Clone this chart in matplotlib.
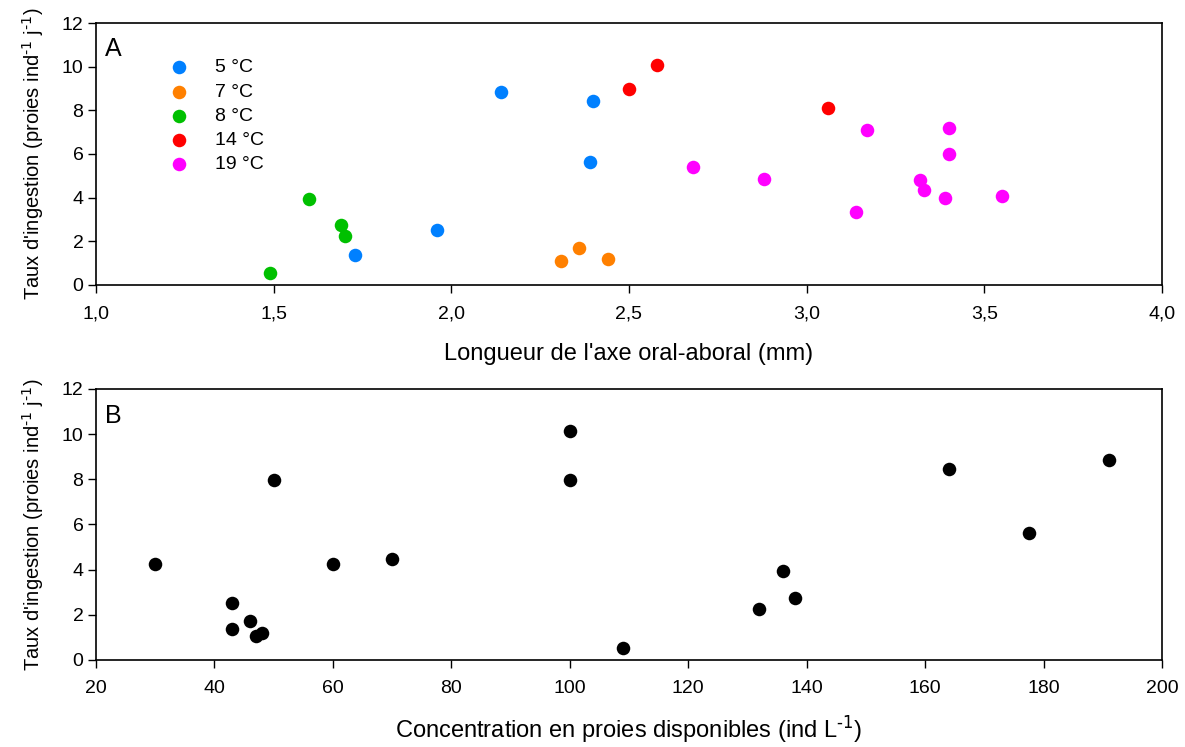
import matplotlib
matplotlib.use("Agg")
import matplotlib.pyplot as plt
from matplotlib.ticker import FuncFormatter

plt.rcParams['font.family'] = ['Liberation Sans', 'DejaVu Sans']
plt.rcParams['mathtext.default'] = 'regular'

# Panel A: ingestion rate vs oral-aboral length, by temperature
temps = ['5 °C', '7 °C', '8 °C', '14 °C', '19 °C']
colors = ['#0080FF', '#FF8000', '#00C000', '#FF0000', '#FF00FF']
length = [
    [2.14, 2.40, 2.39, 1.96, 1.73],
    [2.31, 2.36, 2.44],
    [1.49, 1.60, 1.69, 1.70],
    [2.50, 2.58, 3.06],
    [2.68, 2.88, 3.17, 3.14, 3.40, 3.40, 3.32, 3.33, 3.39, 3.55],
]
rate_a = [
    [8.83, 8.43, 5.63, 2.53, 1.39],
    [1.10, 1.68, 1.20],
    [0.56, 3.93, 2.73, 2.23],
    [8.96, 10.09, 8.11],
    [5.39, 4.86, 7.09, 3.33, 7.17, 6.02, 4.82, 4.35, 3.99, 4.08],
]

# Panel B: ingestion rate vs prey concentration
conc = [30, 43, 43, 46, 47, 48, 50, 60, 70, 100, 100, 109, 132, 136, 138, 164, 177.5, 191]
rate_b = [4.24, 2.54, 1.39, 1.73, 1.08, 1.20, 7.99, 4.24, 4.47, 10.13, 7.99, 0.55,
          2.26, 3.94, 2.73, 8.44, 5.64, 8.84]

ylab = r"Taux d'ingestion (proies ind$^{\text{-1}}$ j$^{\text{-1}}$)"

fig = plt.figure(figsize=(11.85, 7.47), dpi=100)
axA = fig.add_axes([0.081, 0.6185, 0.8996, 0.3507])
axB = fig.add_axes([0.081, 0.1165, 0.8996, 0.3628])

for c, x, y, lab in zip(colors, length, rate_a, temps):
    axA.scatter(x, y, s=95, color=c, label=lab, zorder=3, linewidths=0)

axB.scatter(conc, rate_b, s=95, color='black', zorder=3, linewidths=0)

axA.set_xlim(1.0, 4.0)
axA.set_xticks([1.0, 1.5, 2.0, 2.5, 3.0, 3.5, 4.0])
axA.xaxis.set_major_formatter(FuncFormatter(lambda v, p: f"{v:.1f}".replace('.', ',')))
axB.set_xlim(20, 200)
axB.set_xticks(range(20, 201, 20))

for ax in (axA, axB):
    ax.set_ylim(0, 12)
    ax.set_yticks(range(0, 13, 2))
    ax.tick_params(direction='out', length=5.5, width=1, labelsize=14, top=False, right=False)
    ax.tick_params(axis='x', pad=9)
    for sp in ax.spines.values():
        sp.set_linewidth(1.2)
    ax.set_ylabel(ylab, fontsize=14.5, labelpad=11)

axA.set_xlabel("Longueur de l'axe oral-aboral (mm)", fontsize=17, labelpad=15)
axB.set_xlabel(r"Concentration en proies disponibles (ind L$^{\text{-1}}$)", fontsize=17, labelpad=12)

axA.text(0.008, 0.945, 'A', transform=axA.transAxes, fontsize=18, va='top', ha='left')
axB.text(0.008, 0.945, 'B', transform=axB.transAxes, fontsize=18, va='top', ha='left')

axA.legend(loc='upper left', bbox_to_anchor=(0.047, 0.915), frameon=False, fontsize=14,
           handletextpad=0.85, labelspacing=0.34, borderpad=0.2)

fig.savefig('out.png', dpi=100)
